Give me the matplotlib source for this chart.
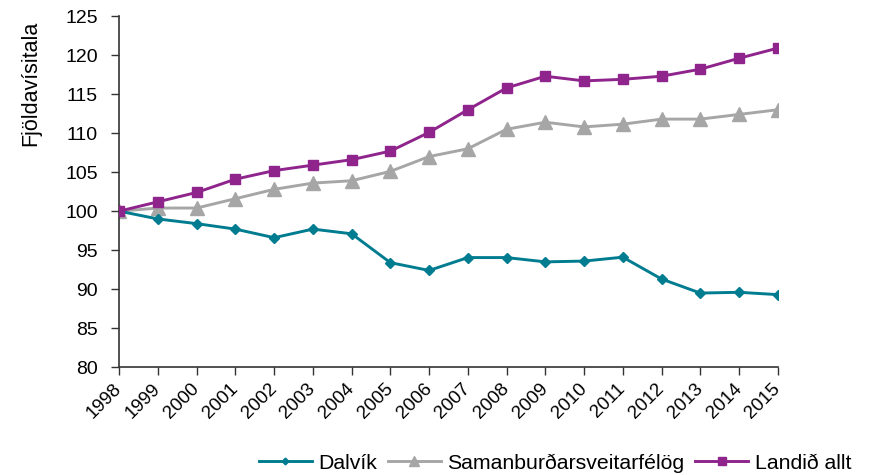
import matplotlib
matplotlib.use("Agg")
import matplotlib.pyplot as plt

plt.rcParams['font.family'] = ['Liberation Sans', 'DejaVu Sans']

years = list(range(1998, 2016))
dalvik = [100, 99.0, 98.4, 97.7, 96.6, 97.7, 97.1, 93.4, 92.4, 94.05, 94.05, 93.5, 93.6, 94.1, 91.3, 89.5, 89.6, 89.3]
saman = [100, 100.4, 100.4, 101.6, 102.8, 103.6, 103.9, 105.1, 107.0, 108.0, 110.5, 111.4, 110.8, 111.15, 111.8, 111.8, 112.4, 113.0]
landid = [100, 101.2, 102.4, 104.1, 105.2, 105.9, 106.6, 107.7, 110.1, 113.0, 115.8, 117.3, 116.7, 116.9, 117.3, 118.2, 119.6, 120.9]
yticks = list(range(80, 126, 5))
series_names = ['Dalvík', 'Samanburðarsveitarfélög', 'Landið allt']

fig = plt.figure(figsize=(8.7, 4.75), dpi=100)
ax = fig.add_axes([0.137, 0.227, 0.757, 0.739])

ax.plot(years, dalvik, color='#007C91', lw=2.1, marker='D', ms=4.6, label=series_names[0], zorder=3)
ax.plot(years, saman, color='#A6A6A6', lw=2.1, marker='^', ms=10.5, label=series_names[1], zorder=2)
ax.plot(years, landid, color='#8E248C', lw=2.1, marker='s', ms=6.8, label=series_names[2], zorder=4)

ax.set_xlim(1998, 2015)
ax.set_ylim(80, 125)
ax.set_yticks(yticks)
ax.set_xticks(years)
ax.set_xticklabels([str(y) for y in years], rotation=45, ha='right', va='center',
                   rotation_mode='anchor', fontsize=13.5)
ax.tick_params(axis='y', labelsize=14, direction='out', length=6, width=1, color='#333333', pad=9.5)
ax.tick_params(axis='x', direction='out', length=6, width=1, color='#333333', pad=8)
for s in ['top', 'right']:
    ax.spines[s].set_visible(False)
for s in ['left', 'bottom']:
    ax.spines[s].set_color('#333333')
    ax.spines[s].set_linewidth(1.2)

fig.text(31/870, 1 - 83/475, 'Fjöldavísitala', rotation=90, fontsize=15.5, ha='center', va='center')

ax.legend(loc='center', bbox_to_anchor=(555/870, 1 - 463/475), bbox_transform=fig.transFigure,
          ncol=3, frameon=False, fontsize=15.3, handlelength=2.5, columnspacing=0.5, handletextpad=0.3,
          markerscale=0.75, borderaxespad=0, borderpad=0)

fig.savefig('out.png', dpi=100)
